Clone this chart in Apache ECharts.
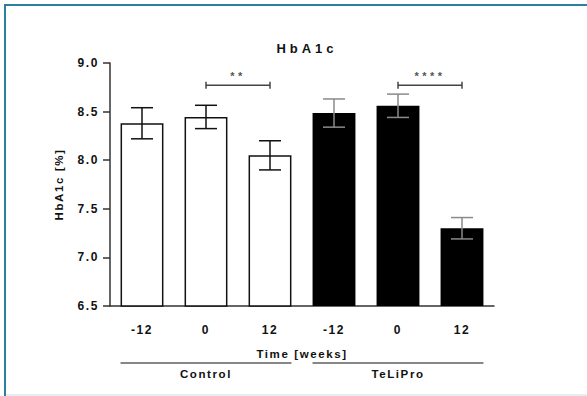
<!DOCTYPE html>
<html>
<head>
<meta charset="utf-8">
<script src="https://cdn.jsdelivr.net/npm/echarts@6/dist/echarts.min.js"></script>
<style>
html,body{margin:0;padding:0;background:#fff;}
#chart{width:587px;height:396px;}
</style>
</head>
<body>
<div id="chart"></div>
<script>
// ---- data ----
const categories = ['-12', '0', '12', '-12', '0', '12'];
const groupOf = ['Control', 'Control', 'Control', 'TeLiPro', 'TeLiPro', 'TeLiPro'];
const means = [8.38, 8.445, 8.05, 8.485, 8.56, 7.30];
const errors = [0.16, 0.12, 0.15, 0.145, 0.12, 0.11];
const groups = ['Control', 'TeLiPro'];
const groupStart = [0, 3];
const groupEnd = [2, 5];
const brackets = [[1, 2, 8.77, '**'], [4, 5, 8.77, '****']];

const FONT = '"Liberation Sans", Arial, sans-serif';
const chart = echarts.init(document.getElementById('chart'), null, {renderer: 'svg'});

const barData = means.map((v, i) => ({
  value: v,
  itemStyle: groupOf[i] === 'Control'
    ? {color: '#ffffff', borderColor: '#111', borderWidth: 1.5}
    : {color: '#000000', borderColor: '#000', borderWidth: 0}
}));

const errData = means.map((v, i) => [i, v, errors[i], groupOf[i] === 'Control' ? 0 : 1]);

chart.setOption({
  animation: false,
  backgroundColor: '#ffffff',
  title: {
    text: 'HbA1c', left: 302, top: 37, textAlign: 'center',
    textStyle: {fontFamily: FONT, fontSize: 13, fontWeight: 'bold', color: '#111'}
  },
  grid: {left: 110, right: 93, top: 63, bottom: 90},
  xAxis: {
    type: 'category', data: categories,
    axisLine: {lineStyle: {color: '#333', width: 1.5}},
    axisTick: {alignWithLabel: true, length: 7, lineStyle: {color: '#333', width: 1.5}},
    axisLabel: {fontFamily: FONT, fontSize: 12, fontWeight: 'bold', color: '#111', margin: 18},
    name: 'Time [weeks]', nameLocation: 'middle', nameGap: 42,
    nameTextStyle: {fontFamily: FONT, fontSize: 11.5, fontWeight: 'bold', color: '#111'}
  },
  yAxis: {
    type: 'value', min: 6.5, max: 9.0, interval: 0.5,
    splitLine: {show: false},
    axisLine: {show: true, lineStyle: {color: '#333', width: 1.5}},
    axisTick: {show: true, length: 7, lineStyle: {color: '#333', width: 1.5}},
    axisLabel: {fontFamily: FONT, fontSize: 12, fontWeight: 'bold', color: '#111', margin: 11,
      formatter: v => v.toFixed(1)},
    name: 'HbA1c [%]', nameLocation: 'middle', nameGap: 45, nameRotate: 90,
    nameTextStyle: {fontFamily: FONT, fontSize: 11.5, fontWeight: 'bold', color: '#111'}
  },
  series: [
    {
      type: 'bar', data: barData, barWidth: '67%', silent: true
    },
    {
      type: 'custom', data: errData, silent: true, z: 5,
      renderItem: function (params, api) {
        const x = api.value(0), m = api.value(1), e = api.value(2);
        const hi = api.coord([x, m + e]), lo = api.coord([x, m - e]);
        const c = api.value(3) ? '#8a8a8a' : '#111';
        const w = 11;
        const st = {stroke: c, lineWidth: 1.5};
        return {type: 'group', children: [
          {type: 'line', shape: {x1: hi[0], y1: hi[1], x2: lo[0], y2: lo[1]}, style: st},
          {type: 'line', shape: {x1: hi[0] - w, y1: hi[1], x2: hi[0] + w, y2: hi[1]}, style: st},
          {type: 'line', shape: {x1: lo[0] - w, y1: lo[1], x2: lo[0] + w, y2: lo[1]}, style: st}
        ]};
      }
    },
    {
      type: 'custom', data: brackets, silent: true, z: 5,
      renderItem: function (params, api) {
        const a = api.coord([api.value(0), api.value(2)]);
        const b = api.coord([api.value(1), api.value(2)]);
        const st = {stroke: '#444', lineWidth: 1.5};
        return {type: 'group', children: [
          {type: 'line', shape: {x1: a[0], y1: a[1], x2: b[0], y2: b[1]}, style: st},
          {type: 'line', shape: {x1: a[0], y1: a[1] - 3.5, x2: a[0], y2: a[1] + 3.5}, style: st},
          {type: 'line', shape: {x1: b[0], y1: b[1] - 3.5, x2: b[0], y2: b[1] + 3.5}, style: st},
          {type: 'text', x: (a[0] + b[0]) / 2, y: a[1] - 9, style: {
            text: brackets[params.dataIndex][3], align: 'center', verticalAlign: 'middle',
            fontFamily: FONT, fontSize: 11, fontWeight: 'bold', fill: '#555'}}
        ]};
      }
    },
    {
      type: 'custom', data: groups.map((g, i) => [groupStart[i], groupEnd[i], i]), silent: true,
      clip: false, z: 5,
      renderItem: function (params, api) {
        const band = api.size([1, 0])[0];
        const half = band * 0.67 / 2;
        const bottom = params.coordSys.y + params.coordSys.height;
        const s = api.coord([api.value(0), 6.5])[0] - half;
        const e = api.coord([api.value(1), 6.5])[0] + half;
        const ly = bottom + 57;
        return {type: 'group', children: [
          {type: 'line', shape: {x1: s, y1: ly, x2: e, y2: ly}, style: {stroke: '#111', lineWidth: 1.2}},
          {type: 'text', x: (s + e) / 2, y: ly + 11, style: {
            text: groups[api.value(2)], align: 'center', verticalAlign: 'middle',
            fontFamily: FONT, fontSize: 11.5, fontWeight: 'bold', fill: '#111'}}
        ]};
      }
    }
  ],
  graphic: [
    {type: 'line', shape: {x1: 4, y1: 5, x2: 587, y2: 5}, style: {stroke: '#2d7f9b', lineWidth: 2}},
    {type: 'line', shape: {x1: 5, y1: 4, x2: 5, y2: 396}, style: {stroke: '#2d7f9b', lineWidth: 2}},
    {type: 'line', shape: {x1: 6, y1: 395, x2: 587, y2: 395}, style: {stroke: '#dde7ee', lineWidth: 1.5}}
  ]
});

function spaceText() {
  document.querySelectorAll('#chart text').forEach(t => {
    const s = t.textContent;
    let sp = '1.6px';
    if (s === 'HbA1c') sp = '4px';
    else if (s.indexOf('*') >= 0) sp = '3.5px';
    t.style.letterSpacing = sp;
  });
}
spaceText();
chart.on('finished', spaceText);
</script>
</body>
</html>
